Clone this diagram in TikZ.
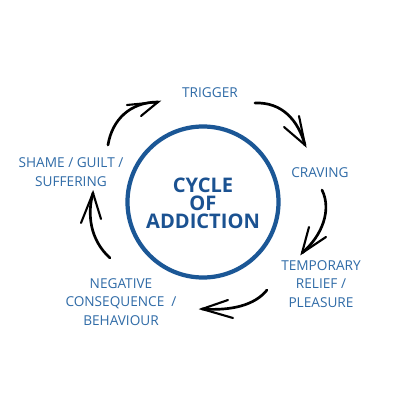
\documentclass[tikz,border=0pt]{standalone}
\usepackage{fontspec}
\setmainfont{Open Sans}
\definecolor{ringblue}{HTML}{1B5796}
\definecolor{labelblue}{HTML}{2F6BA7}
\definecolor{titleblue}{HTML}{1B5291}
\begin{document}
\begin{tikzpicture}[x=0.25mm,y=-0.25mm,
  label/.style={text=labelblue,align=center,inner sep=0pt,font=\fontsize{9.7}{13.3}\selectfont},
  arc/.style={line width=1.9pt,line cap=round,line join=round,black},
  barb/.style={line width=1.5pt,line cap=round,black}]
\useasboundingbox[fill=white] (0,0) rectangle (400,400);
\node[draw=ringblue,line width=3pt,circle,minimum size=151*0.25mm,inner sep=0pt] (ring) at (203,202) {};
\node[text=titleblue,align=center,inner sep=0pt,font=\fontsize{14.3}{12.8}\selectfont\bfseries] (title) at (203,203) {CYCLE\\OF\\ADDICTION};
\node[label] (trigger) at (210,93) {TRIGGER};
\node[label] (craving) at (320,173) {CRAVING};
\node[label] (relief) at (321,284) {TEMPORARY\\RELIEF /\\PLEASURE};
\node[label] (negative) at (121,302) {NEGATIVE\\CONSEQUENCE\ \ /\\BEHAVIOUR};
\node[label] (shame) at (71,172) {SHAME / GUILT /\\SUFFERING};
% arrow 1
\coordinate (a1s) at (108,145); \coordinate (a1e) at (158,102);
\draw[arc] (a1s) .. controls (112,120) and (130,102) .. (a1e);
\draw[barb] (127,105) -- (a1e) -- (141,116);
% arrow 2
\coordinate (a2s) at (255,103); \coordinate (a2e) at (305,145);
\draw[arc] (a2s) .. controls (282,102) and (298,120) .. (a2e);
\draw[barb] (284,127) -- (a2e) -- (299,116);
% arrow 3
\coordinate (a3s) at (322,190); \coordinate (a3e) at (302,253);
\draw[arc] (a3s) .. controls (332,210) and (322,236) .. (a3e);
\draw[barb] (309,227) -- (a3e) -- (326,237);
% arrow 4
\coordinate (a4s) at (267,290); \coordinate (a4e) at (202,309);
\draw[arc] (a4s) .. controls (255,305) and (232,311) .. (a4e);
\draw[barb] (228,300) -- (a4e) -- (233,318);
% arrow 5
\coordinate (a5s) at (110,258); \coordinate (a5e) at (93,193);
\draw[arc] (a5s) .. controls (90,240) and (87,214) .. (a5e);
\draw[barb] (81,223) -- (a5e) -- (101,219);
\end{tikzpicture}
\end{document}
